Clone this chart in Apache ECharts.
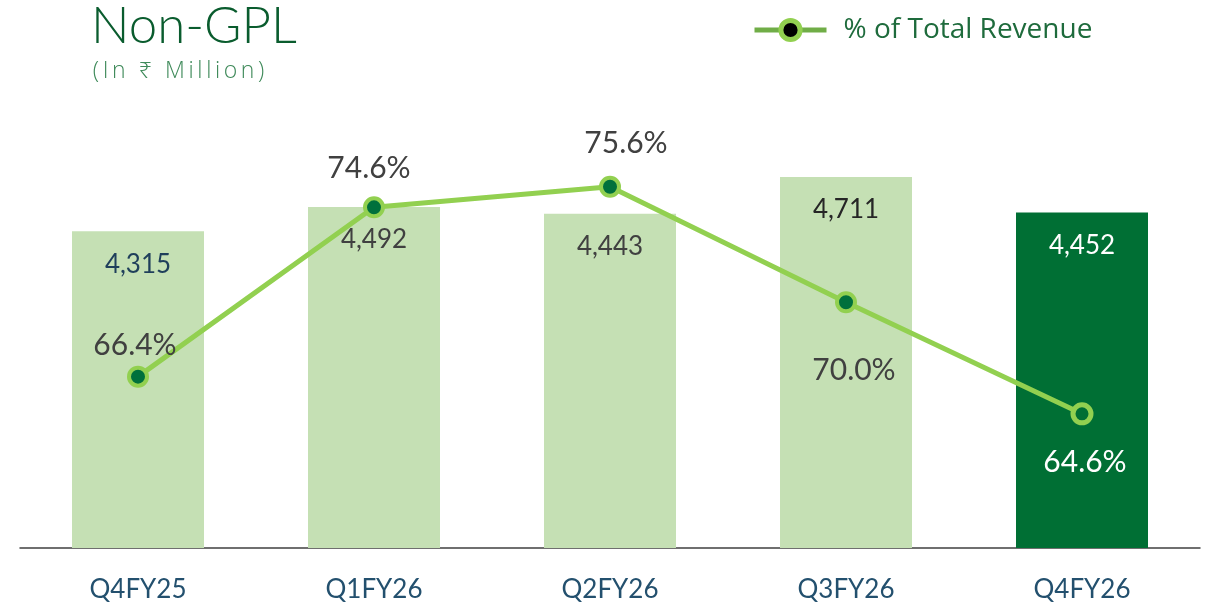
<!DOCTYPE html>
<html>
<head>
<meta charset="UTF-8">
<script src="https://cdn.jsdelivr.net/npm/echarts@6/dist/echarts.min.js"></script>
<style>
  html, body { margin: 0; padding: 0; background: #ffffff; }
  #chart { width: 1209px; height: 606px; }
</style>
</head>
<body>
<div id="chart"></div>
<script>
// data
var quarters = ['Q4FY25', 'Q1FY26', 'Q2FY26', 'Q3FY26', 'Q4FY26'];
var revenue = [4315, 4492, 4443, 4711, 4452];
var sharePct = [66.4, 74.6, 75.6, 70.0, 64.6];

// label placement for the % labels (dx, dy from the point)
var pctOffsets = [[-3, -31], [-5, -39], [16, -43], [8, 68], [3, 49]];
var barLabelColors = ['#1f3f5b', '#404040', '#404040', '#262626', '#ffffff'];

var FONT = 'Lato, "Noto Sans", sans-serif';
var WIDE = '"Open Sans", "Noto Sans", sans-serif';
var lightGreen = '#c5e0b4';
var darkGreen = '#006f34';
var lineGreen = '#92d050';

// subtitle is letter-spaced in the original: wrap each char in a rich run
function spaced(s) {
  return s.split('').map(function (c) { return '{c|' + c + '}'; }).join('');
}

var barData = revenue.map(function (v, i) {
  var last = i === revenue.length - 1;
  return {
    value: v,
    itemStyle: { color: last ? darkGreen : lightGreen },
    label: { color: barLabelColors[i] }
  };
});

var lineData = sharePct.map(function (v, i) {
  var last = i === sharePct.length - 1;
  return {
    value: v,
    itemStyle: last ? { color: darkGreen, borderWidth: 5 } : {},
    label: {
      offset: pctOffsets[i],
      color: last ? '#ffffff' : '#404040'
    }
  };
});

var chart = echarts.init(document.getElementById('chart'), null, { renderer: 'canvas' });

var option = {
  animation: false,
  title: {
    text: 'Non-GPL',
    subtext: spaced('(In ₹ Million)'),
    left: 86,
    top: -4,
    itemGap: 8,
    textStyle: { fontFamily: FONT, fontSize: 51, fontWeight: 300, color: '#0a5c2e' },
    subtextStyle: {
      rich: {
        c: { fontFamily: WIDE, fontSize: 23, fontWeight: 300, color: '#3f8a5a', padding: [0, 1.8, 0, 1.8] }
      }
    }
  },
  legend: {
    data: [{ name: '% of Total Revenue', itemStyle: { color: '#000000', borderColor: lineGreen, borderWidth: 5 } }],
    left: 747,
    top: 11,
    itemWidth: 72,
    itemHeight: 24,
    itemGap: 18,
    lineStyle: { width: 5, color: '#70ad47' },
    textStyle: { fontFamily: WIDE, fontSize: 28, color: '#1e6b3c', padding: [0, 0, 0, 12] }
  },
  grid: { left: 20, right: 9, top: 69, bottom: 58, containLabel: false },
  xAxis: {
    type: 'category',
    data: quarters,
    axisLine: { lineStyle: { color: '#404040', width: 1.5 } },
    axisTick: { show: false },
    axisLabel: { fontFamily: FONT, fontSize: 26, color: '#23506e', margin: 29 }
  },
  yAxis: [
    { type: 'value', min: 2000, max: 5500, show: false, splitLine: { show: false } },
    { type: 'value', min: 58.1, max: 81.3, show: false, splitLine: { show: false } }
  ],
  series: [
    {
      type: 'bar',
      name: 'Revenue',
      yAxisIndex: 0,
      barWidth: 132,
      data: barData,
      label: {
        show: true,
        position: 'insideTop',
        distance: 20,
        fontFamily: FONT,
        fontSize: 26,
        formatter: function (p) { return p.value.toLocaleString('en-US'); }
      }
    },
    {
      type: 'line',
      name: '% of Total Revenue',
      yAxisIndex: 1,
      data: lineData,
      symbol: 'circle',
      symbolSize: 18,
      lineStyle: { color: lineGreen, width: 5 },
      itemStyle: { color: '#00703c', borderColor: lineGreen, borderWidth: 4 },
      label: {
        show: true,
        position: 'inside',
        fontFamily: FONT,
        fontSize: 30,
        formatter: function (p) { return p.value.toFixed(1) + '%'; }
      },
      z: 5
    }
  ]
};

chart.setOption(option);
</script>
</body>
</html>
